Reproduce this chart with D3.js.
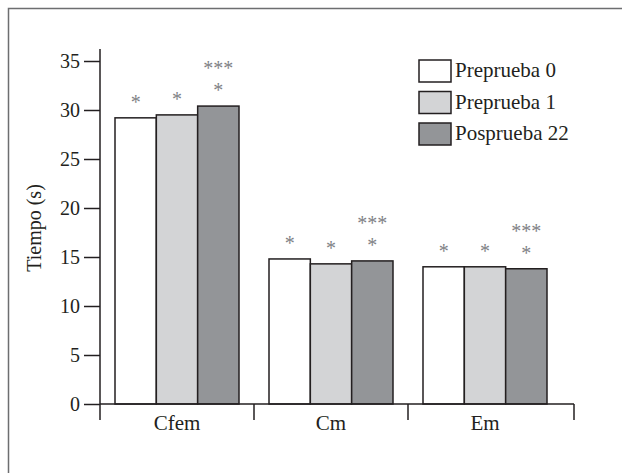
<!DOCTYPE html>
<html>
<head>
<meta charset="utf-8">
<script src="https://cdn.jsdelivr.net/npm/d3@7"></script>
<style>
  body { margin: 0; background: #fff; }
</style>
</head>
<body>
<div id="chart"></div>
<script>
// data
const categories = ["Cfem", "Cm", "Em"];
const series = ["Preprueba 0", "Preprueba 1", "Posprueba 22"];
const prueba0 = [29.2, 14.8, 14.0];
const prueba1 = [29.5, 14.3, 14.0];
const posprueba22 = [30.4, 14.6, 13.8];
// significance marks above each bar (one line per entry, bottom first)
const marks0 = [["*"], ["*"], ["*"]];
const marks1 = [["*"], ["*"], ["*"]];
const marks22 = [["*", "***"], ["*", "***"], ["*", "***"]];
const yTicks = [0, 5, 10, 15, 20, 25, 30, 35];

const colors = ["#ffffff", "#d3d4d6", "#939598"];
const values = [prueba0, prueba1, posprueba22];
const marks = [marks0, marks1, marks22];

const W = 622, H = 473;
const serifFont = "'Liberation Serif'";
const ink = "#231f20";

const svg = d3.select("#chart")
    .append("svg")
    .attr("width", W)
    .attr("height", H);

// frame (runs off the right and bottom edge)
svg.append("rect")
    .attr("x", 8.5).attr("y", 8.5)
    .attr("width", 700).attr("height", 600)
    .attr("fill", "none")
    .attr("stroke", "#6d6e70")
    .attr("stroke-width", 1.5);

const y = d3.scaleLinear().domain([0, 35]).range([404, 61]);
const x = d3.scaleBand().domain(categories).range([100, 562]);
const xInner = d3.scaleBand().domain(series).range([15, 139]);
const axisEnd = 574;

// bars
const rows = [];
categories.forEach((c, i) => {
    series.forEach((s, j) => {
        rows.push({cat: c, ser: s, value: values[j][i], color: colors[j], mark: marks[j][i]});
    });
});

const g = svg.append("g");

g.selectAll("rect.bar")
    .data(rows)
  .enter().append("rect")
    .attr("class", "bar")
    .attr("x", d => x(d.cat) + xInner(d.ser))
    .attr("y", d => y(d.value))
    .attr("width", xInner.bandwidth())
    .attr("height", d => y(0) - y(d.value))
    .attr("fill", d => d.color)
    .attr("stroke", ink)
    .attr("stroke-width", 1.5);

// asterisks
rows.forEach(d => {
    d.mark.forEach((m, k) => {
        g.append("text")
            .attr("x", x(d.cat) + xInner(d.ser) + xInner.bandwidth() / 2)
            .attr("y", y(d.value) - 9 - k * 22)
            .attr("text-anchor", "middle")
            .style("font-family", serifFont)
            .style("font-size", "20px")
            .style("fill", "#808285")
            .text(m);
    });
});

// y axis
const yAxis = svg.append("g")
    .attr("transform", "translate(100,0)")
    .call(d3.axisLeft(y).tickValues(yTicks).tickSize(16).tickPadding(4).tickSizeOuter(0));
yAxis.attr("font-family", null);
yAxis.select(".domain").remove();
yAxis.selectAll(".tick line").attr("stroke", ink).attr("stroke-width", 1.5);
yAxis.selectAll(".tick text")
    .style("font-size", "20px")
    .style("font-family", serifFont)
    .attr("fill", ink);
svg.append("line")
    .attr("x1", 100).attr("x2", 100)
    .attr("y1", 49).attr("y2", y(0))
    .attr("stroke", ink).attr("stroke-width", 1.5);

// x axis: baseline with group separators
svg.append("line")
    .attr("x1", 100).attr("x2", axisEnd)
    .attr("y1", y(0)).attr("y2", y(0))
    .attr("stroke", ink).attr("stroke-width", 1.5);
const seps = categories.map(c => x(c)).concat([axisEnd]);
svg.selectAll("line.sep")
    .data(seps)
  .enter().append("line")
    .attr("class", "sep")
    .attr("x1", d => d).attr("x2", d => d)
    .attr("y1", y(0)).attr("y2", y(0) + 16)
    .attr("stroke", ink).attr("stroke-width", 1.5);
svg.selectAll("text.cat")
    .data(categories)
  .enter().append("text")
    .attr("class", "cat")
    .attr("x", d => x(d) + xInner(series[1]) + xInner.bandwidth() / 2)
    .attr("y", 430)
    .attr("text-anchor", "middle")
    .style("font-family", serifFont)
    .style("font-size", "21px")
    .attr("fill", ink)
    .text(d => d);

// y title
svg.append("text")
    .attr("transform", "translate(41,228) rotate(-90)")
    .attr("text-anchor", "middle")
    .style("font-family", serifFont)
    .style("font-size", "20px")
    .attr("fill", ink)
    .text("Tiempo (s)");

// legend
const legend = svg.selectAll("g.leg")
    .data(series)
  .enter().append("g")
    .attr("class", "leg")
    .attr("transform", (d, i) => "translate(419," + (60 + i * 31.5) + ")");
legend.append("rect")
    .attr("width", 32).attr("height", 22)
    .attr("fill", (d, i) => colors[i])
    .attr("stroke", ink)
    .attr("stroke-width", 1.5);
legend.append("text")
    .attr("x", 36).attr("y", 17)
    .style("font-family", serifFont)
    .style("font-size", "21px")
    .attr("fill", ink)
    .text(d => d);
</script>
</body>
</html>
